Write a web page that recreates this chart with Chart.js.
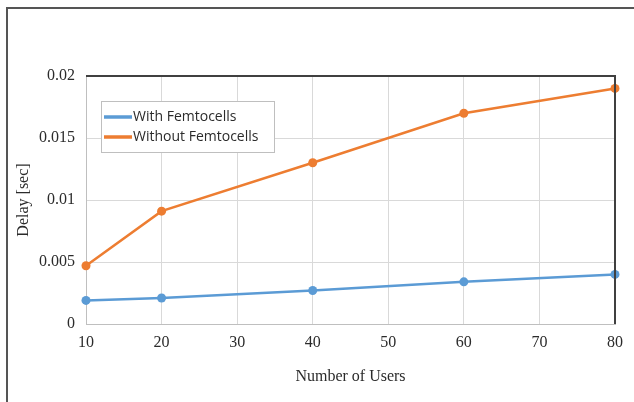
<!DOCTYPE html>
<html lang="en">
<head>
  <meta charset="UTF-8">
  <title>Delay vs Number of Users</title>
  <script src="https://cdn.jsdelivr.net/npm/chart.js"></script>
  <style>
    body { margin: 0; background: #fff; }
    #wrap { position: relative; width: 634px; height: 402px; overflow: hidden; }
    #frame { position: absolute; left: 6px; top: 7px; right: -10px; bottom: -10px;
             border-top: 2px solid #555; border-left: 2px solid #555; }
    canvas { position: absolute; left: 0; top: 0; }
  </style>
</head>
<body>
<div id="wrap">
  <div id="frame"></div>
  <canvas id="delayChart" width="634" height="402"></canvas>
</div>

<script>
  // data
  const users = [10, 20, 40, 60, 80];
  const withFemto = [0.0019, 0.0021, 0.0027, 0.0034, 0.0040];
  const withoutFemto = [0.0047, 0.0091, 0.0130, 0.0170, 0.0190];
  const seriesNames = ['With Femtocells', 'Without Femtocells'];
  const yTicks = [0, 0.005, 0.01, 0.015, 0.02];

  const blue = '#5B9BD5';
  const orange = '#ED7D31';
  const serif = "'Liberation Serif', 'Times New Roman', serif";

  const toPoints = vals => users.map((u, i) => ({ x: u, y: vals[i] }));

  // legend box inside the plot area, Excel style
  const insideLegend = {
    id: 'insideLegend',
    afterDraw(chart) {
      const { ctx, chartArea } = chart;
      const left = chartArea.left + 15, top = chartArea.top + 25;
      const w = 173, h = 51;
      ctx.save();
      ctx.fillStyle = '#fff';
      ctx.fillRect(left, top, w, h);
      ctx.strokeStyle = '#bfbfbf';
      ctx.lineWidth = 1;
      ctx.strokeRect(left + 0.5, top + 0.5, w, h);
      ctx.font = "14px 'Open Sans', sans-serif";
      ctx.textBaseline = 'middle';
      chart.data.datasets.forEach((ds, i) => {
        const y = top + 16 + i * 20;
        ctx.strokeStyle = ds.borderColor;
        ctx.lineWidth = 3.5;
        ctx.beginPath();
        ctx.moveTo(left + 3, y);
        ctx.lineTo(left + 31, y);
        ctx.stroke();
        ctx.fillStyle = '#2b2b2b';
        ctx.fillText(ds.label, left + 32, y);
      });
      ctx.restore();
    }
  };

  // dark edge on top and right of the plot area
  const plotEdges = {
    id: 'plotEdges',
    afterDatasetsDraw(chart) {
      const { ctx, chartArea: a } = chart;
      ctx.save();
      ctx.strokeStyle = '#404040';
      ctx.lineWidth = 2;
      ctx.beginPath();
      ctx.moveTo(a.left, a.top);
      ctx.lineTo(a.right, a.top);
      ctx.lineTo(a.right, a.bottom);
      ctx.stroke();
      ctx.restore();
    }
  };

  const ctx = document.getElementById('delayChart').getContext('2d');
  new Chart(ctx, {
    type: 'line',
    data: {
      datasets: [
        {
          label: seriesNames[0],
          data: toPoints(withFemto),
          borderColor: blue,
          backgroundColor: blue,
          borderWidth: 2.5,
          pointRadius: 4.5,
          pointBorderWidth: 0,
          tension: 0
        },
        {
          label: seriesNames[1],
          data: toPoints(withoutFemto),
          borderColor: orange,
          backgroundColor: orange,
          borderWidth: 2.5,
          pointRadius: 4.5,
          pointBorderWidth: 0,
          tension: 0
        }
      ]
    },
    options: {
      responsive: false,
      animation: false,
      clip: false,
      layout: { padding: { top: 76, right: 19, left: 0, bottom: 0 } },
      plugins: {
        legend: { display: false },
        tooltip: { enabled: false }
      },
      scales: {
        x: {
          type: 'linear',
          min: 10,
          max: 80,
          afterFit: s => { s.height = 78; },
          ticks: { stepSize: 10, color: '#2b2b2b', padding: 9, font: { family: serif, size: 16 } },
          grid: { color: '#d9d9d9', drawTicks: false },
          border: { color: '#bfbfbf' },
          title: {
            display: true,
            text: 'Number of Users',
            color: '#2b2b2b',
            font: { family: serif, size: 16 },
            padding: { top: 0, bottom: 16 }
          }
        },
        y: {
          min: 0,
          max: 0.02,
          afterFit: s => { s.width = 86; },
          afterBuildTicks: s => { s.ticks = yTicks.map(v => ({ value: v })); },
          ticks: {
            color: '#2b2b2b',
            padding: 11,
            font: { family: serif, size: 16 },
            callback: v => String(+v.toFixed(3))
          },
          grid: { color: '#d9d9d9', drawTicks: false },
          border: { color: '#bfbfbf' },
          title: {
            display: true,
            text: 'Delay [sec]',
            color: '#2b2b2b',
            font: { family: serif, size: 16 },
            padding: { top: 14, bottom: 0 }
          }
        }
      }
    },
    plugins: [plotEdges, insideLegend]
  });
</script>
</body>
</html>
